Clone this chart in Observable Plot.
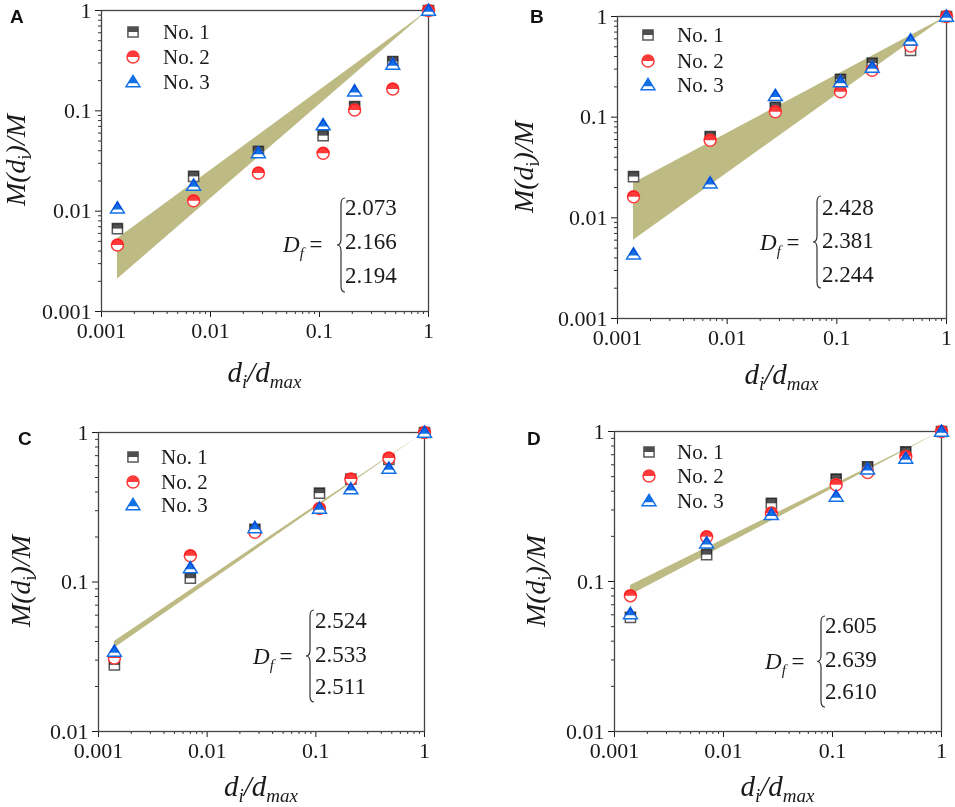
<!DOCTYPE html>
<html><head><meta charset="utf-8">
<script src="https://cdn.jsdelivr.net/npm/d3@7"></script>
<script src="https://cdn.jsdelivr.net/npm/@observablehq/plot@0.6"></script>
<style>
body{margin:0;background:#fff;}
#wrap{position:relative;width:955px;height:807px;overflow:hidden;background:#fff;}
#wrap svg{position:absolute;}
</style></head><body><div id="wrap"></div>
<script>
// ---------- data ----------
const ratio = [0.0014, 0.007, 0.0275, 0.108, 0.21, 0.47, 1];   // d_i/d_max
const seriesNames = ["No. 1", "No. 2", "No. 3"];
const xTicks = [0.001, 0.01, 0.1, 1];

// Panel A
const A_no1 = [0.0067, 0.0222, 0.0395, 0.0566, 0.110, 0.31, 1];
const A_no2 = [0.0046, 0.0127, 0.024, 0.0377, 0.102, 0.165, 1];
const A_no3 = [0.0107, 0.018, 0.038, 0.072, 0.157, 0.29, 1];
const A_df = ["2.073", "2.166", "2.194"];
const A_bandX = [0.0014, 1], A_bandLo = [0.0021, 1], A_bandHi = [0.0053, 1];
const A_yTicks = [0.001, 0.01, 0.1, 1];

// Panel B
const B_no1 = [0.0257, 0.064, 0.125, 0.238, 0.344, 0.46, 1];
const B_no2 = [0.0162, 0.059, 0.113, 0.179, 0.293, 0.51, 1];
const B_no3 = [0.00435, 0.0221, 0.163, 0.224, 0.311, 0.58, 1];
const B_df = ["2.428", "2.381", "2.244"];
const B_bandX = [0.0014, 1], B_bandLo = [0.006, 1], B_bandHi = [0.022, 1];
const B_yTicks = [0.001, 0.01, 0.1, 1];

// Panel C
const C_no1 = [0.0279, 0.106, 0.225, 0.393, 0.488, 0.66, 1];
const C_no2 = [0.031, 0.15, 0.215, 0.31, 0.488, 0.674, 1];
const C_no3 = [0.0343, 0.124, 0.23, 0.31, 0.418, 0.575, 1];
const C_df = ["2.524", "2.533", "2.511"];
const C_bandX = [0.0014, 1], C_bandLo = [0.036, 1], C_bandHi = [0.040, 1];
const C_yTicks = [0.01, 0.1, 1];

// Panel D
const D_no1 = [0.0577, 0.151, 0.332, 0.482, 0.582, 0.732, 1];
const D_no2 = [0.0805, 0.199, 0.286, 0.441, 0.533, 0.682, 1];
const D_no3 = [0.0608, 0.18, 0.279, 0.369, 0.561, 0.661, 1];
const D_df = ["2.605", "2.639", "2.610"];
const D_bandX = [0.0014, 1], D_bandLo = [0.081, 1], D_bandHi = [0.094, 1];
const D_yTicks = [0.01, 0.1, 1];

// ---------- style ----------
const colors = ["#4f4f4f", "#ff3a3a", "#1170e6"];
const outlineColors = ["#5a5a5a", "#ff3a3a", "#1170e6"];
const bandColor = "#bdba83";
const serif = "Liberation Serif, DejaVu Serif, serif";
const sans = "Liberation Sans, Arial, sans-serif";

// custom symbols (size = PI r^2)
const rOf = size => Math.sqrt(size / Math.PI);
const sqFull = {draw(c, s){const h = rOf(s)*0.85; c.rect(-h,-h,2*h,2*h);}};
const sqHalf = {draw(c, s){const h = rOf(s)*0.85; c.rect(-h,-h,2*h,h);}};
const ciFull = {draw(c, s){const r = rOf(s); c.moveTo(r,0); c.arc(0,0,r,0,2*Math.PI);}};
const ciHalf = {draw(c, s){const r = rOf(s); c.moveTo(-r,0); c.arc(0,0,r,Math.PI,2*Math.PI); c.closePath();}};
const trFull = {draw(c, s){const r = rOf(s)*1.05; c.moveTo(0,-r*1.05); c.lineTo(r*1.1,r*0.75); c.lineTo(-r*1.1,r*0.75); c.closePath();}};
const trHalf = {draw(c, s){const r = rOf(s)*1.05; const top=-r*1.05, bot=r*0.75, yc=r*0.2;
  const hw = r*1.1*(yc-top)/(bot-top); c.moveTo(0,top); c.lineTo(hw,yc); c.lineTo(-hw,yc); c.closePath();}};
const fullSyms = [sqFull, ciFull, trFull];
const halfSyms = [sqHalf, ciHalf, trHalf];

const panels = [
  {letter:"A", series:[A_no1,A_no2,A_no3], df:A_df, bx:A_bandX, blo:A_bandLo, bhi:A_bandHi, yTicks:A_yTicks,
   sx:0, sy:0, w:477, h:400, mL:101, mT:10, mR:49, mB:89,
   leg:{mx:133, tx:163, rows:[32,57,82]}, let:[10,23], num:{x:345, ys:[215,249,283]}, brace:{x:341, y0:198, y1:292},
   D:{x:283, y:252}, xl:[264.5,382], yl:[25,160]},
  {letter:"B", series:[B_no1,B_no2,B_no3], df:B_df, bx:B_bandX, blo:B_bandLo, bhi:B_bandHi, yTicks:B_yTicks,
   sx:477, sy:0, w:478, h:400, mL:140, mT:16, mR:9, mB:82,
   leg:{mx:171, tx:200, rows:[35,61,85]}, let:[53,23], num:{x:345, ys:[215,248,282]}, brace:{x:340, y0:196, y1:288},
   D:{x:283, y:250}, xl:[304.5,384], yl:[56,167]},
  {letter:"C", series:[C_no1,C_no2,C_no3], df:C_df, bx:C_bandX, blo:C_bandLo, bhi:C_bandHi, yTicks:C_yTicks,
   sx:0, sy:400, w:477, h:407, mL:98, mT:32, mR:53, mB:76,
   leg:{mx:133, tx:161, rows:[57,82,105]}, let:[18,45], num:{x:315, ys:[228,262,294]}, brace:{x:310, y0:210, y1:302},
   D:{x:253, y:264}, xl:[261,396], yl:[30,181]},
  {letter:"D", series:[D_no1,D_no2,D_no3], df:D_df, bx:D_bandX, blo:D_bandLo, bhi:D_bandHi, yTicks:D_yTicks,
   sx:477, sy:400, w:478, h:407, mL:137, mT:31, mR:14, mB:76,
   leg:{mx:172, tx:200, rows:[52,76,101]}, let:[50,45], num:{x:348, ys:[233,267,299]}, brace:{x:344, y0:216, y1:307},
   D:{x:288, y:269}, xl:[300.5,396], yl:[68,181]}
];

function minorTicks(major){
  const out = [];
  for (let i = 0; i < major.length - 1; i++) for (let k = 2; k <= 9; k++) out.push(major[i]*k);
  return out;
}

const wrap = document.getElementById("wrap");

panels.forEach(p => {
  const band = p.bx.map((x,i) => ({x, lo:p.blo[i], hi:p.bhi[i]}));
  const axText = {fontFamily:serif, fontSize:22};
  const marks = [
    Plot.areaY(band, {x:"x", y1:"lo", y2:"hi", fill:bandColor}),
    Plot.axisX(minorTicks(xTicks), {tickSize:3, tickFormat:() => "", color:"#333", label:null}),
    Plot.axisX(xTicks, {tickSize:6, tickPadding:5, tickFormat:d => String(d), color:"#1a1a1a", label:null, ...axText}),
    Plot.axisY(minorTicks(p.yTicks), {tickSize:3, tickFormat:() => "", color:"#333", label:null}),
    Plot.axisY(p.yTicks, {tickSize:6, tickPadding:4, tickFormat:d => String(d), color:"#1a1a1a", label:null, ...axText}),
    Plot.frame({stroke:"#444", strokeWidth:1.3})
  ];
  p.series.forEach((vals, s) => {
    const rows = vals.map((v,i) => ({x:ratio[i], y:v}));
    marks.push(Plot.dot(rows, {x:"x", y:"y", symbol:fullSyms[s], r:6, fill:"white", stroke:outlineColors[s], strokeWidth:1.5}));
    marks.push(Plot.dot(rows, {x:"x", y:"y", symbol:halfSyms[s], r:6, fill:colors[s], stroke:"none", mixBlendMode:"multiply"}));
  });
  const svg = Plot.plot({
    width:p.w, height:p.h,
    marginLeft:p.mL, marginTop:p.mT, marginRight:p.mR, marginBottom:p.mB,
    x:{type:"log", domain:[0.001, 1]},
    y:{type:"log", domain:[p.yTicks[0], 1]},
    style:{fontFamily:serif, fontSize:"22px", color:"#1a1a1a", background:"transparent", overflow:"visible"},
    marks
  });
  svg.style.left = p.sx + "px";
  svg.style.top = p.sy + "px";
  const g = d3.select(svg);
  const T = (x, y) => g.append("text").attr("x", x).attr("y", y).attr("text-anchor", "start")
    .attr("font-family", serif).attr("fill", "#1a1a1a");

  // panel letter
  T(p.let[0], p.let[1]).attr("font-family", sans).attr("font-weight", "bold")
    .attr("font-size", 19).attr("fill", "#111").text(p.letter);

  // legend
  seriesNames.forEach((name, s) => {
    const cy = p.leg.rows[s];
    const sz = Math.PI * 36;
    g.append("path").attr("transform", `translate(${p.leg.mx},${cy})`)
      .attr("d", d3.symbol(fullSyms[s], sz)()).attr("fill", "white")
      .attr("stroke", outlineColors[s]).attr("stroke-width", 1.5);
    g.append("path").attr("transform", `translate(${p.leg.mx},${cy})`)
      .attr("d", d3.symbol(halfSyms[s], sz)()).attr("fill", colors[s]);
    T(p.leg.tx, cy).attr("dy", "0.35em").attr("font-size", 21).text(name);
  });

  // D_f annotation
  const dt = T(p.D.x, p.D.y).attr("font-size", 23);
  dt.append("tspan").attr("font-style", "italic").text("D");
  dt.append("tspan").attr("font-style", "italic").attr("font-size", 15).attr("dy", 6).text("f");
  dt.append("tspan").attr("dy", -6).text(" =");
  p.df.forEach((v, i) => {
    T(p.num.x, p.num.ys[i]).attr("font-size", 23).text(v);
  });
  const bx = p.brace.x, y0 = p.brace.y0, y1 = p.brace.y1, ym = (y0 + y1) / 2, w = 4, r = 6;
  g.append("path")
    .attr("d", `M${bx+w},${y0} Q${bx},${y0} ${bx},${y0+r} L${bx},${ym-r} Q${bx},${ym} ${bx-w},${ym} Q${bx},${ym} ${bx},${ym+r} L${bx},${y1-r} Q${bx},${y1} ${bx+w},${y1}`)
    .attr("fill", "none").attr("stroke", "#333").attr("stroke-width", 1.2);

  // x label
  const xl = T(p.xl[0], p.xl[1]).attr("text-anchor", "middle")
    .attr("font-style", "italic").attr("font-size", 29);
  xl.append("tspan").text("d");
  xl.append("tspan").attr("font-size", 19).attr("dy", 6).text("i");
  xl.append("tspan").attr("dy", -6).text("/d");
  xl.append("tspan").attr("font-size", 19).attr("dy", 6).text("max");

  // y label
  const yl = g.append("text").attr("transform", `translate(${p.yl[0]},${p.yl[1]}) rotate(-90)`)
    .attr("text-anchor", "middle").attr("fill", "#1a1a1a")
    .attr("font-family", serif).attr("font-style", "italic").attr("font-size", 28);
  yl.append("tspan").text("M(d");
  yl.append("tspan").attr("font-size", 18).attr("font-style", "normal").attr("dy", 6).text("i");
  yl.append("tspan").attr("dy", -6).text(")/M");

  wrap.appendChild(svg);
});
</script>
</body></html>
